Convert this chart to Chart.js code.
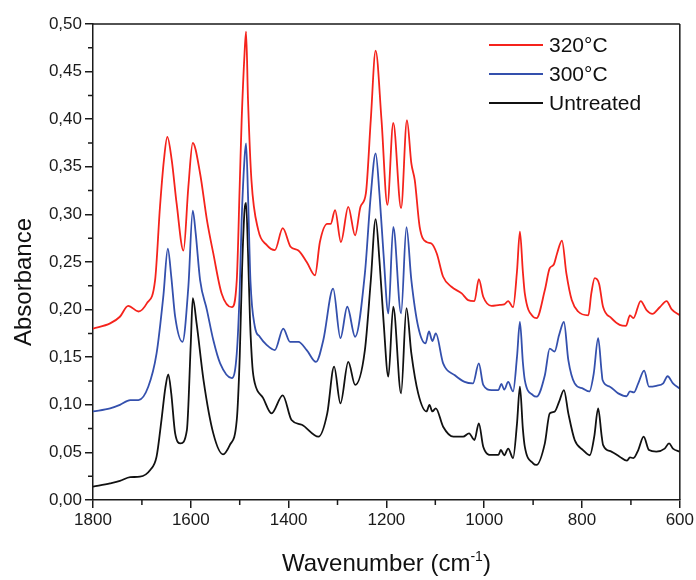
<!DOCTYPE html>
<html>
<head>
<meta charset="utf-8">
<script src="https://cdn.jsdelivr.net/npm/chart.js@4.4.1/dist/chart.umd.min.js"></script>
<style>
html,body{margin:0;padding:0;background:#fff;}
canvas{display:block;}
</style>
</head>
<body>
<canvas id="c" width="696" height="580"></canvas>
<script>
// ---- Data ----
const seriesLabels = ['320°C', '300°C', 'Untreated'];

const wn320 = [1800,1765,1745,1728,1707,1690,1673,1663,1655,1648,1639,1629,1615,1605,1596,1581,1567,1554,1537,1516,1506,1500,1496,1490,1487,1483,1476,1462,1445,1428,1412,1396,1380,1363,1346,1336,1321,1314,1305,1293,1278,1264,1253,1242,1232,1222,1210,1198,1186,1170,1158,1149,1142,1132,1118,1108,1097,1084,1067,1046,1033,1020,1011,1002,985,968,959,951,941,933,927,921,917,900,893,876,866,858,851,841,832,821,808,787,781,774,765,757,740,723,710,702,695,680,668,656,641,627,617,600];
const abs320 = [0.180,0.1855,0.1925,0.204,0.198,0.2065,0.231,0.308,0.357,0.3815,0.357,0.3115,0.262,0.329,0.375,0.343,0.294,0.259,0.217,0.2025,0.231,0.33,0.399,0.47,0.492,0.42,0.336,0.2835,0.268,0.2625,0.2855,0.266,0.262,0.250,0.236,0.271,0.290,0.290,0.3045,0.271,0.308,0.278,0.308,0.322,0.399,0.472,0.399,0.310,0.396,0.3065,0.399,0.3535,0.336,0.287,0.271,0.2695,0.259,0.2345,0.224,0.217,0.210,0.209,0.232,0.2135,0.204,0.205,0.2055,0.209,0.2025,0.24,0.282,0.24,0.217,0.1925,0.191,0.2205,0.2435,0.247,0.259,0.2725,0.238,0.210,0.198,0.194,0.217,0.233,0.227,0.203,0.191,0.184,0.183,0.194,0.191,0.209,0.1995,0.1955,0.2025,0.209,0.2005,0.194];

const wn300 = [1800,1765,1745,1724,1707,1687,1670,1656,1647,1640,1632,1617,1605,1596,1590,1581,1567,1554,1540,1516,1506,1500,1496,1490,1487,1483,1478,1469,1459,1445,1428,1411,1397,1380,1363,1344,1329,1309,1294,1280,1264,1244,1232,1222,1214,1206,1196,1186,1170,1159,1149,1135,1120,1113,1106,1099,1084,1060,1040,1023,1011,1002,985,971,965,959,951,941,933,927,921,917,900,893,876,866,856,847,837,828,815,798,785,776,767,760,758,743,726,709,702,694,685,673,663,648,634,625,614,600];
const abs300 = [0.093,0.0963,0.100,0.105,0.105,0.119,0.154,0.215,0.264,0.235,0.1925,0.166,0.224,0.304,0.28,0.231,0.1995,0.168,0.1435,0.128,0.154,0.22,0.294,0.36,0.3747,0.32,0.23,0.182,0.1715,0.163,0.1575,0.180,0.166,0.166,0.1575,0.145,0.168,0.222,0.170,0.203,0.1715,0.238,0.32,0.364,0.32,0.259,0.196,0.287,0.196,0.2865,0.231,0.182,0.1645,0.177,0.167,0.175,0.1435,0.131,0.124,0.1225,0.1435,0.121,0.1155,0.1155,0.122,0.116,0.124,0.114,0.15,0.187,0.145,0.126,0.110,0.1085,0.131,0.159,0.156,0.173,0.187,0.147,0.1225,0.117,0.114,0.133,0.170,0.135,0.126,0.119,0.112,0.109,0.114,0.113,0.1225,0.136,0.119,0.120,0.1225,0.130,0.1225,0.117];

const wnUnt = [1800,1765,1745,1724,1704,1683,1670,1660,1652,1646,1640,1632,1621,1608,1600,1596,1588,1574,1554,1534,1520,1506,1500,1495,1490,1487,1483,1479,1474,1469,1452,1435,1412,1394,1373,1339,1321,1307,1294,1278,1264,1244,1232,1222,1214,1206,1196,1186,1170,1159,1149,1135,1118,1112,1106,1099,1084,1063,1043,1031,1020,1011,1002,985,971,966,959,951,941,933,927,921,917,900,893,876,866,856,847,837,828,815,798,784,775,767,760,757,740,723,708,702,695,685,674,663,648,631,622,614,600];
const absUnt = [0.014,0.0175,0.020,0.024,0.0245,0.0315,0.0455,0.084,0.118,0.132,0.112,0.070,0.0595,0.0735,0.165,0.212,0.185,0.126,0.070,0.048,0.058,0.084,0.15,0.245,0.305,0.312,0.26,0.19,0.14,0.1225,0.107,0.091,0.110,0.084,0.079,0.0665,0.091,0.140,0.1015,0.145,0.121,0.1575,0.23,0.295,0.25,0.189,0.1295,0.203,0.112,0.2015,0.154,0.112,0.093,0.0998,0.093,0.0963,0.077,0.0665,0.0665,0.070,0.063,0.0805,0.056,0.0473,0.0473,0.0525,0.047,0.054,0.044,0.08,0.119,0.075,0.056,0.0385,0.0368,0.0595,0.091,0.0928,0.103,0.1155,0.091,0.063,0.0525,0.047,0.0665,0.0963,0.068,0.058,0.0508,0.0455,0.0413,0.0448,0.044,0.0525,0.0665,0.0525,0.0508,0.054,0.0595,0.054,0.0508];

const xTickValues = [1800,1600,1400,1200,1000,800,600];
const xMinorValues = [1700,1500,1300,1100,900,700];
const yTickValues = [0.00,0.05,0.10,0.15,0.20,0.25,0.30,0.35,0.40,0.45,0.50];
const yMinorValues = [0.025,0.075,0.125,0.175,0.225,0.275,0.325,0.375,0.425,0.475];

const colors = ['#f5231c', '#3450ad', '#111111'];
const FONT = '"Liberation Sans", Arial, Helvetica, sans-serif';
const AXIS = '#1a1a1a';

function pts(xs, ys) { return xs.map((x, i) => ({x: x, y: ys[i]})); }

const datasets = [
  {label: seriesLabels[0], data: pts(wn320, abs320), borderColor: colors[0]},
  {label: seriesLabels[1], data: pts(wn300, abs300), borderColor: colors[1]},
  {label: seriesLabels[2], data: pts(wnUnt, absUnt), borderColor: colors[2]}
].map(d => Object.assign(d, {borderWidth: 1.8, pointRadius: 0, fill: false, cubicInterpolationMode: 'monotone'}));

const framePlugin = {
  id: 'frame',
  afterDraw(chart) {
    const {ctx, chartArea: a, scales: {x, y}} = chart;
    ctx.save();
    ctx.strokeStyle = AXIS;
    ctx.lineWidth = 1.5;
    ctx.beginPath();
    ctx.moveTo(a.left, a.top); ctx.lineTo(a.right, a.top);
    ctx.moveTo(a.right, a.top); ctx.lineTo(a.right, a.bottom);
    ctx.stroke();
    ctx.beginPath();
    xMinorValues.forEach(v => { const px = x.getPixelForValue(v); ctx.moveTo(px, a.bottom); ctx.lineTo(px, a.bottom + 5); });
    yMinorValues.forEach(v => { const py = y.getPixelForValue(v); ctx.moveTo(a.left - 5, py); ctx.lineTo(a.left, py); });
    ctx.stroke();

    ctx.font = '21px ' + FONT;
    ctx.textBaseline = 'middle';
    ctx.textAlign = 'left';
    chart.data.datasets.forEach((ds, i) => {
      const ly = 45 + i * 29;
      ctx.strokeStyle = ds.borderColor;
      ctx.lineWidth = 2;
      ctx.beginPath(); ctx.moveTo(489, ly); ctx.lineTo(543, ly); ctx.stroke();
      ctx.fillStyle = '#111';
      ctx.fillText(ds.label, 549, ly + 1);
    });

    ctx.fillStyle = '#111';
    ctx.save();
    ctx.translate(24, 282);
    ctx.rotate(-Math.PI / 2);
    ctx.font = '24px ' + FONT;
    ctx.textAlign = 'center';
    ctx.textBaseline = 'middle';
    ctx.fillText('Absorbance', 0, 0);
    ctx.restore();

    const main1 = 'Wavenumber (cm', sup = '-1', main2 = ')';
    ctx.font = '24px ' + FONT;
    const w1 = ctx.measureText(main1).width, w3 = ctx.measureText(main2).width;
    ctx.font = '14px ' + FONT;
    const w2 = ctx.measureText(sup).width;
    const cx = (a.left + a.right) / 2;
    const sx = cx - (w1 + w2 + w3) / 2;
    const by = 571;
    ctx.textAlign = 'left';
    ctx.textBaseline = 'alphabetic';
    ctx.font = '24px ' + FONT;
    ctx.fillText(main1, sx, by);
    ctx.font = '14px ' + FONT;
    ctx.fillText(sup, sx + w1, by - 10);
    ctx.font = '24px ' + FONT;
    ctx.fillText(main2, sx + w1 + w2, by);
    ctx.restore();
  }
};

new Chart(document.getElementById('c'), {
  type: 'line',
  data: {datasets: datasets},
  options: {
    responsive: false,
    animation: false,
    devicePixelRatio: 1,
    layout: {padding: {top: 24, right: 16, left: 0, bottom: 0}},
    plugins: {legend: {display: false}, tooltip: {enabled: false}},
    scales: {
      x: {
        type: 'linear', reverse: true, min: 600, max: 1800,
        afterBuildTicks: s => { s.ticks = xTickValues.map(v => ({value: v})); },
        afterFit: s => { s.height = 80; },
        ticks: {font: {family: FONT, size: 17}, color: '#1a1a1a', padding: 2, maxRotation: 0, callback: v => String(v)},
        grid: {drawOnChartArea: false, tickLength: 8, color: AXIS, lineWidth: 1.5},
        border: {color: AXIS, width: 1.5}
      },
      y: {
        type: 'linear', min: 0, max: 0.5,
        afterBuildTicks: s => { s.ticks = yTickValues.map(v => ({value: v})); },
        afterFit: s => { s.width = 93; },
        ticks: {font: {family: FONT, size: 17}, color: '#1a1a1a', padding: 3, callback: v => Number(v).toFixed(2).replace('.', ',')},
        grid: {drawOnChartArea: false, tickLength: 8, color: AXIS, lineWidth: 1.5},
        border: {color: AXIS, width: 1.5}
      }
    }
  },
  plugins: [framePlugin]
});
</script>
</body>
</html>
